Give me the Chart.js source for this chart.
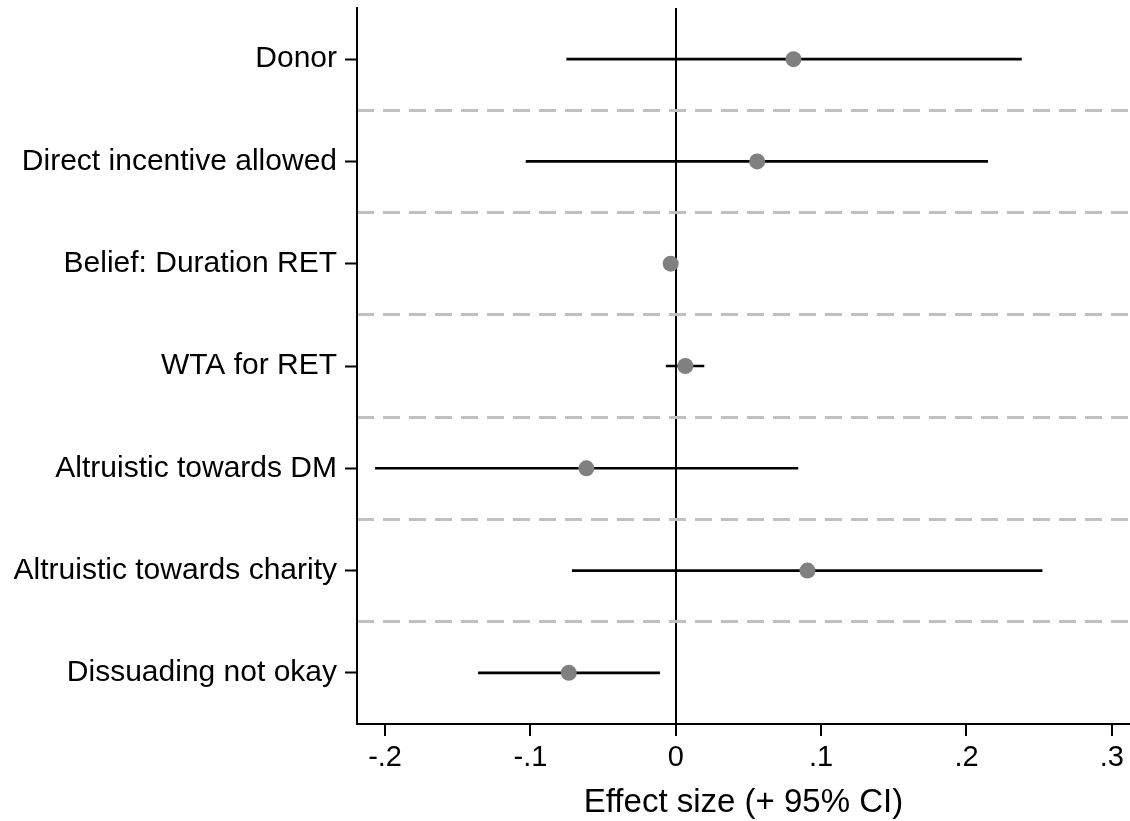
<!DOCTYPE html>
<html>
<head>
<meta charset="utf-8">
<script src="https://cdn.jsdelivr.net/npm/chart.js@4.4.1/dist/chart.umd.min.js"></script>
<style>
  body { margin: 0; background: #fff; }
  #wrap { width: 1130px; height: 821px; }
</style>
</head>
<body>
<div id="wrap"><canvas id="coefChart" width="1130" height="821"></canvas></div>
<script>
// coefficient plot data, top to bottom
var categories = ['Donor', 'Direct incentive allowed', 'Belief: Duration RET', 'WTA for RET',
                  'Altruistic towards DM', 'Altruistic towards charity', 'Dissuading not okay'];
var estimates = [0.081, 0.056, -0.0035, 0.0066, -0.0615, 0.0906, -0.0736];
var ciLower = [-0.075, -0.103, -0.0055, -0.0066, -0.2066, -0.0712, -0.1358];
var ciUpper = [0.2378, 0.2146, -0.0015, 0.0194, 0.084, 0.252, -0.0111];
var xTicks = [-0.2, -0.1, 0, 0.1, 0.2, 0.3];
var xTickLabels = ['-.2', '-.1', '0', '.1', '.2', '.3'];
var separators = [1.5, 2.5, 3.5, 4.5, 5.5, 6.5];

var pointData = estimates.map(function(v, i) { return {x: v, y: i + 1}; });
var ciData = categories.map(function(c, i) { return {y: i + 1, x: [ciLower[i], ciUpper[i]]}; });

var font = "'Liberation Sans', Arial, sans-serif";

function displayChart(chartId) {
  return new Chart(document.getElementById(chartId).getContext('2d'), {
    type: 'scatter',
    data: {
      datasets: [{
        type: 'scatter',
        label: 'Estimate',
        data: pointData,
        pointRadius: 8,
        pointHoverRadius: 8,
        pointBackgroundColor: '#808080',
        pointBorderWidth: 0,
        order: 0
      }, {
        type: 'bar',
        label: '95% CI',
        indexAxis: 'y',
        data: ciData,
        backgroundColor: '#000',
        borderWidth: 0,
        barThickness: 2,
        order: 1
      }]
    },
    options: {
      responsive: false,
      animation: false,
      layout: { autoPadding: false, padding: { top: 8, right: 0, left: 0, bottom: 0 } },
      plugins: { legend: { display: false }, tooltip: { enabled: false } },
      scales: {
        x: {
          type: 'linear',
          min: -0.2193,
          max: 0.3125,
          afterBuildTicks: function(scale) {
            scale.ticks = xTicks.map(function(v) { return {value: v}; });
          },
          afterFit: function(scale) {
            scale.height = 97;
            scale.paddingLeft = 0;
            scale.paddingRight = 0;
          },
          ticks: {
            color: '#000',
            font: { family: font, size: 29 },
            padding: 5,
            maxRotation: 0,
            autoSkip: false,
            callback: function(value) { return xTickLabels[xTicks.indexOf(value)]; }
          },
          grid: {
            color: function(ctx) { return ctx.tick && ctx.tick.value === 0 ? '#000' : 'rgba(0,0,0,0)'; },
            lineWidth: 2,
            tickColor: '#000',
            tickWidth: 2,
            tickLength: 12
          },
          border: { display: true, color: '#000', width: 2 },
          title: {
            display: true,
            text: 'Effect size (+ 95% CI)',
            color: '#000',
            font: { family: font, size: 33, lineHeight: 1 },
            padding: { top: 0, bottom: 2 }
          }
        },
        y: {
          type: 'linear',
          reverse: true,
          offset: false,
          min: 0.5,
          max: 7.5,
          afterBuildTicks: function(scale) {
            scale.ticks = categories.map(function(c, i) { return {value: i + 1}; });
          },
          afterFit: function(scale) {
            scale.width = 357;
            scale.paddingTop = 0;
            scale.paddingBottom = 0;
          },
          ticks: {
            color: '#000',
            font: { family: font, size: 30 },
            padding: 8,
            autoSkip: false,
            callback: function(value) { return categories[value - 1]; }
          },
          grid: {
            offset: false,
            drawOnChartArea: false,
            tickColor: '#000',
            tickWidth: 2,
            tickLength: 12
          },
          border: { display: true, color: '#000', width: 2 }
        },
        sep: {
          type: 'linear',
          position: 'right',
          reverse: true,
          offset: false,
          min: 0.5,
          max: 7.5,
          afterBuildTicks: function(scale) {
            scale.ticks = separators.map(function(v) { return {value: v}; });
          },
          afterFit: function(scale) {
            scale.width = 0;
            scale.paddingTop = 0;
            scale.paddingBottom = 0;
          },
          ticks: { display: false },
          grid: { offset: false, color: '#c0c0c0', lineWidth: 3, drawTicks: false },
          border: { display: false, dash: [17, 9] }
        }
      }
    }
  });
}

displayChart('coefChart');
</script>
</body>
</html>
